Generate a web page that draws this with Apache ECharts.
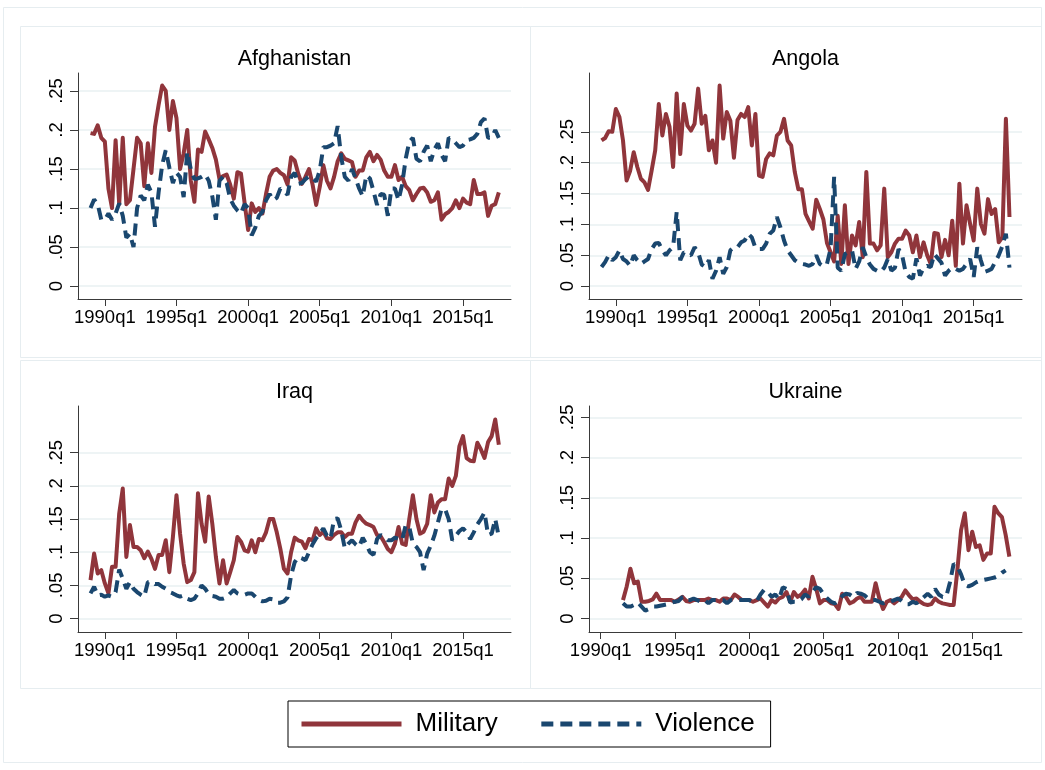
<!DOCTYPE html>
<html>
<head>
<meta charset="utf-8">
<script src="https://cdn.jsdelivr.net/npm/echarts@6/dist/echarts.min.js"></script>
<style>
html,body{margin:0;padding:0;background:#fff;}
#chart{width:1045px;height:770px;}
</style>
</head>
<body>
<div id="chart"></div>
<script>
// ---- Data (quarter index: 0 = 1990q1) ----
const countries = ['Afghanistan', 'Angola', 'Iraq', 'Ukraine'];
const seriesNames = ['Military', 'Violence'];

const xTickValues = [0, 20, 40, 60, 80, 100];
const xTickLabels = ['1990q1', '1995q1', '2000q1', '2005q1', '2010q1', '2015q1'];
const yTickValues = [0, 0.05, 0.1, 0.15, 0.2, 0.25];
const yTickLabels = ['0', '.05', '.1', '.15', '.2', '.25'];

const afghanistanStart = -4;
const afghanistanMilitary = [.196,.195,.206,.19,.185,.125,.10,.187,.105,.19,.105,.11,.15,.19,.183,.128,.183,.145,.204,.232,.257,.25,.2,.237,.215,.15,.17,.2,.135,.108,.175,.172,.198,.188,.177,.162,.137,.141,.143,.13,.112,.146,.144,.107,.072,.106,.095,.1,.093,.118,.14,.148,.15,.145,.142,.13,.165,.161,.144,.131,.14,.15,.13,.104,.127,.155,.135,.125,.14,.16,.17,.163,.161,.159,.14,.148,.148,.165,.172,.16,.168,.162,.148,.14,.14,.155,.136,.14,.128,.123,.11,.118,.125,.126,.12,.108,.11,.12,.085,.092,.095,.1,.11,.1,.112,.107,.105,.136,.118,.118,.12,.09,.103,.105,.12];
const afghanistanViolence = [.1,.111,.105,.085,.085,.093,.085,.093,.106,.09,.062,.067,.05,.1,.116,.11,.13,.12,.076,.12,.155,.174,.152,.132,.145,.14,.114,.172,.15,.137,.138,.14,.143,.135,.115,.085,.135,.14,.132,.112,.103,.097,.093,.105,.1,.065,.075,.09,.095,.11,.118,.11,.113,.125,.122,.117,.14,.145,.131,.132,.137,.141,.138,.134,.148,.178,.178,.18,.183,.205,.165,.14,.135,.15,.138,.125,.115,.142,.138,.122,.104,.118,.117,.09,.125,.125,.11,.13,.163,.185,.19,.163,.16,.172,.18,.16,.175,.183,.168,.16,.19,.188,.183,.178,.18,.187,.188,.19,.195,.21,.215,.19,.19,.2,.19];

const angolaStart = -4;
const angolaMilitary = [.236,.24,.251,.25,.287,.274,.236,.171,.187,.217,.193,.174,.168,.156,.187,.22,.295,.244,.279,.258,.193,.312,.214,.295,.26,.252,.263,.32,.263,.276,.22,.236,.2,.325,.239,.282,.268,.208,.269,.279,.274,.29,.228,.279,.179,.177,.206,.215,.212,.244,.25,.271,.236,.228,.185,.157,.157,.117,.105,.093,.14,.125,.108,.07,.055,.04,.114,.036,.131,.036,.082,.066,.104,.047,.185,.069,.069,.058,.066,.158,.047,.055,.069,.077,.077,.09,.082,.055,.082,.047,.071,.05,.036,.086,.085,.047,.075,.05,.106,.033,.166,.069,.131,.101,.074,.158,.101,.085,.141,.117,.125,.071,.079,.271,.112];
const angolaViolence = [.031,.039,.05,.042,.047,.058,.044,.04,.033,.05,.042,.036,.04,.044,.06,.069,.07,.058,.05,.058,.063,.12,.042,.055,.052,.05,.063,.055,.035,.031,.042,.012,.025,.047,.02,.031,.058,.063,.063,.071,.074,.085,.079,.062,.06,.06,.069,.085,.09,.112,.095,.074,.058,.05,.042,.038,.036,.035,.033,.036,.05,.036,.032,.036,.06,.177,.03,.025,.052,.055,.058,.028,.04,.063,.047,.035,.028,.025,.023,.03,.044,.025,.03,.06,.05,.022,.015,.012,.045,.017,.03,.033,.031,.052,.045,.038,.017,.025,.03,.028,.025,.028,.036,.044,.015,.063,.042,.023,.025,.028,.039,.05,.065,.085,.03];

const iraqStart = -4;
const iraqMilitary = [.058,.098,.068,.073,.053,.038,.078,.078,.158,.196,.093,.141,.108,.108,.103,.091,.101,.09,.075,.096,.096,.118,.07,.123,.186,.128,.083,.055,.058,.07,.189,.143,.116,.184,.143,.093,.053,.088,.053,.07,.088,.123,.116,.103,.101,.118,.1,.12,.118,.13,.15,.15,.13,.105,.075,.068,.1,.122,.118,.116,.106,.12,.118,.136,.126,.131,.121,.12,.126,.13,.13,.123,.128,.128,.145,.155,.148,.143,.141,.138,.126,.124,.115,.105,.1,.113,.138,.113,.111,.15,.186,.15,.128,.131,.143,.186,.16,.175,.18,.18,.211,.2,.215,.26,.275,.242,.238,.237,.265,.255,.242,.266,.275,.3,.262];
const iraqViolence = [.038,.048,.035,.036,.033,.035,.033,.04,.074,.06,.045,.055,.045,.04,.036,.033,.055,.056,.052,.052,.048,.045,.04,.038,.035,.033,.035,.03,.028,.03,.038,.05,.045,.037,.034,.033,.03,.03,.032,.038,.043,.038,.036,.036,.038,.038,.033,.028,.026,.027,.03,.029,.024,.024,.026,.032,.065,.085,.093,.091,.088,.1,.112,.121,.128,.136,.125,.12,.15,.151,.133,.106,.113,.118,.112,.108,.122,.112,.1,.096,.12,.126,.123,.118,.118,.122,.12,.118,.141,.138,.113,.108,.1,.073,.098,.11,.125,.145,.165,.165,.15,.118,.125,.132,.136,.13,.12,.13,.142,.15,.16,.126,.128,.15,.123];

const ukraineStart = 6;
const ukraineMilitary = [.023,.04,.062,.044,.046,.021,.021,.022,.024,.031,.023,.023,.023,.023,.021,.024,.027,.022,.021,.023,.023,.023,.023,.025,.023,.023,.021,.025,.025,.023,.03,.027,.023,.023,.023,.021,.023,.025,.02,.015,.023,.02,.025,.027,.033,.021,.033,.027,.03,.036,.025,.052,.037,.019,.023,.023,.019,.018,.012,.031,.027,.019,.021,.025,.027,.021,.021,.021,.044,.025,.012,.021,.023,.019,.023,.027,.035,.029,.024,.025,.021,.018,.017,.018,.025,.021,.019,.018,.017,.017,.06,.11,.131,.085,.108,.089,.091,.073,.081,.081,.139,.131,.126,.104,.077];
const ukraineViolence = [.019,.015,.015,.017,.02,.015,.01,.012,.015,.015,.016,.017,.018,.02,.021,.022,.027,.023,.023,.025,.023,.021,.023,.019,.023,.023,.023,.023,.019,.023,.023,.023,.023,.023,.023,.021,.022,.03,.036,.033,.027,.03,.024,.039,.037,.02,.021,.021,.024,.03,.027,.033,.039,.037,.03,.025,.021,.019,.022,.028,.031,.03,.027,.032,.031,.029,.025,.023,.023,.021,.019,.021,.021,.023,.025,.022,.018,.018,.021,.019,.023,.027,.031,.027,.037,.03,.027,.027,.045,.068,.065,.055,.042,.04,.042,.045,.047,.048,.049,.05,.051,.053,.057,.06];

// ---- Layout / style ----
const FONT = '"Liberation Sans", Arial, Helvetica, sans-serif';
const MIL_COLOR = '#90353B';
const VIO_COLOR = '#1A476F';
const GRID_COLOR = '#E9F0F2';
const FRAME_COLOR = '#E6EDF0';
const AXIS_COLOR = '#3a3a3a';

const panels = [
  {title: countries[0], start: afghanistanStart, mil: afghanistanMilitary, vio: afghanistanViolence,
   grid: {left: 78, top: 73, width: 433, height: 226}, x: [-7.5, 113.4], y: [-0.0165, 0.273]},
  {title: countries[1], start: angolaStart, mil: angolaMilitary, vio: angolaViolence,
   grid: {left: 589, top: 73, width: 433, height: 226}, x: [-7.5, 113.5], y: [-0.0208, 0.3453]},
  {title: countries[2], start: iraqStart, mil: iraqMilitary, vio: iraqViolence,
   grid: {left: 78, top: 406, width: 433, height: 226}, x: [-7.5, 113.4], y: [-0.0202, 0.3204]},
  {title: countries[3], start: ukraineStart, mil: ukraineMilitary, vio: ukraineViolence,
   grid: {left: 589, top: 406, width: 433, height: 226}, x: [-3.15, 113.4], y: [-0.0166, 0.2641]}
];

const toPoints = (start, arr) => arr.map((v, i) => [start + i, v]);
const xLabel = v => { const k = xTickValues.indexOf(Math.round(v)); return k >= 0 ? xTickLabels[k] : ''; };
const yLabel = v => { let best = 0; yTickValues.forEach((t, i) => { if (Math.abs(t - v) < Math.abs(yTickValues[best] - v)) best = i; }); return yTickLabels[best]; };

const grids = [], xAxes = [], yAxes = [], series = [], graphics = [];

panels.forEach((p, i) => {
  grids.push(Object.assign({containLabel: false}, p.grid));
  xAxes.push({
    gridIndex: i, type: 'value', min: p.x[0], max: p.x[1],
    axisLine: {show: true, onZero: false, lineStyle: {color: AXIS_COLOR, width: 1}},
    axisTick: {show: true, length: 7, customValues: xTickValues, lineStyle: {color: AXIS_COLOR, width: 1}},
    axisLabel: {show: true, customValues: xTickValues, formatter: xLabel, margin: 9,
      fontSize: 18.5, color: '#000', fontFamily: FONT},
    splitLine: {show: false}
  });
  yAxes.push({
    gridIndex: i, type: 'value', min: p.y[0], max: p.y[1],
    axisLine: {show: true, onZero: false, lineStyle: {color: AXIS_COLOR, width: 1}},
    axisTick: {show: true, length: 8, customValues: yTickValues, lineStyle: {color: AXIS_COLOR, width: 1}},
    axisLabel: {show: true, customValues: yTickValues, formatter: yLabel, rotate: 90, margin: 12,
      fontSize: 18.5, color: '#000', fontFamily: FONT},
    splitLine: {show: true, lineStyle: {color: GRID_COLOR, width: 1.5}}
  });
  series.push({
    name: seriesNames[0], type: 'line', xAxisIndex: i, yAxisIndex: i,
    data: toPoints(p.start, p.mil), symbol: 'none', showSymbol: false,
    color: MIL_COLOR, lineStyle: {color: MIL_COLOR, width: 4, join: 'round'},
    z: 2, animation: false
  });
  series.push({
    name: seriesNames[1], type: 'line', xAxisIndex: i, yAxisIndex: i,
    data: toPoints(p.start, p.vio), symbol: 'none', showSymbol: false,
    color: VIO_COLOR, lineStyle: {color: VIO_COLOR, width: 4, type: [12, 7]},
    z: 3, animation: false
  });
  graphics.push({
    type: 'text', silent: true, z: 10,
    x: p.grid.left + p.grid.width / 2, y: p.grid.top - 25,
    style: {text: p.title, fontSize: 21.5, fontFamily: FONT, fill: '#000', align: 'center', verticalAlign: 'top'}
  });
});

// frames
const frameRects = [
  [3.5, 7.5, 1038, 755],
  [20.5, 26.5, 510, 331], [530.5, 26.5, 511, 331],
  [20.5, 360.5, 510, 328], [530.5, 360.5, 511, 328]
];
frameRects.forEach(r => graphics.push({
  type: 'rect', silent: true, z: -10,
  shape: {x: r[0], y: r[1], width: r[2], height: r[3]},
  style: {fill: 'none', stroke: FRAME_COLOR, lineWidth: 1}
}));

const chart = echarts.init(document.getElementById('chart'), null, {renderer: 'canvas'});
chart.setOption({
  backgroundColor: '#fff',
  animation: false,
  grid: grids,
  xAxis: xAxes,
  yAxis: yAxes,
  series: series,
  graphic: graphics,
  legend: {
    show: true, left: 288, top: 701, orient: 'horizontal',
    padding: [10, 16, 10, 11], itemWidth: 100, itemHeight: 26, itemGap: 41,
    borderColor: '#000', borderWidth: 1, backgroundColor: '#fff', selectedMode: false,
    textStyle: {fontSize: 26, color: '#000', fontFamily: FONT, padding: [0, 0, 0, 9]},
    data: [
      {name: seriesNames[0], itemStyle: {color: 'rgba(0,0,0,0)', borderWidth: 0}, lineStyle: {width: 5}},
      {name: seriesNames[1], itemStyle: {color: 'rgba(0,0,0,0)', borderWidth: 0}, lineStyle: {width: 5}}
    ]
  }
});
</script>
</body>
</html>
